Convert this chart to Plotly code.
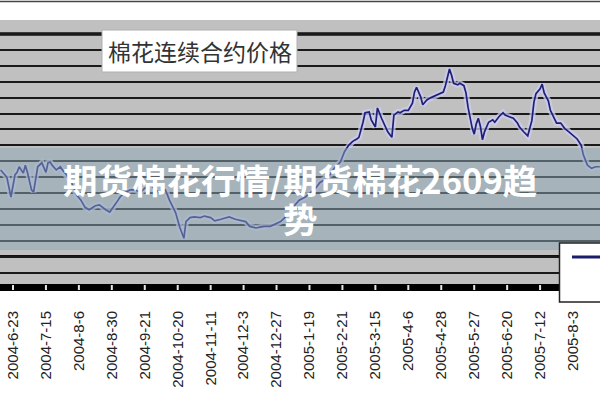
import plotly.graph_objects as go

# ---- data (trading-day index, price in yuan/ton) ----
day_index = [-6, -3, -1, 0, 1, 2, 3, 5, 6, 7, 9, 10, 11, 12, 14, 16, 17, 18, 19, 21,
             23, 24, 26, 29, 31, 33, 35, 37, 40, 42, 45, 47, 50, 52, 54, 57, 59, 62, 64, 67,
             69, 71, 74, 76, 79, 81, 83, 84, 86, 88, 91, 93, 96, 98, 101, 103, 105, 108, 110, 113,
             115, 118, 120, 122, 125, 127, 130, 132, 135, 137, 139, 142, 144, 147, 149, 152, 154, 156, 159, 161,
             163, 165, 167, 168, 170, 171, 173, 174, 176, 177, 179, 181, 182, 184, 185, 187, 188, 190, 192, 194,
             195, 196, 198, 199, 201, 203, 205, 207, 209, 210, 211, 212, 213, 214, 216, 217, 219, 220, 221, 222,
             223, 224, 225, 226, 227, 228, 229, 231, 233, 234, 236, 238, 239, 241, 243, 245, 246, 248, 250, 252,
             253, 254, 256, 257, 258, 259, 260, 261, 263, 264, 266, 268, 270, 272, 274, 276, 277, 279, 281, 283,
             285]
price = [12290, 12200, 11950, 12080, 12230, 12260, 12330, 12250, 12350, 12260, 12040, 12010, 12200, 12330, 12380, 12260, 12380, 12390, 12350, 12290,
         12330, 12290, 12230, 12100, 11970, 11910, 11820, 11790, 11840, 11850, 11790, 11760, 11870, 11950, 12000, 12040, 12040, 12010, 12060, 12100,
         12040, 12010, 12040, 11910, 11750, 11570, 11430, 11640, 11690, 11700, 11690, 11710, 11690, 11650, 11670, 11690, 11700, 11670, 11660, 11640,
         11580, 11560, 11570, 11580, 11580, 11600, 11640, 11690, 11760, 11850, 11910, 11950, 11990, 12060, 12130, 12180, 12230, 12310, 12390, 12520,
         12600, 12650, 12680, 12700, 12890, 13010, 13020, 12920, 12830, 13070, 12940, 12820, 12770, 12700, 12980, 13020, 13010, 13040, 13040, 13130,
         13270, 13330, 13210, 13110, 13170, 13200, 13220, 13250, 13270, 13350, 13460, 13560, 13480, 13380, 13360, 13380, 13350, 13260, 13080, 12940,
         12820, 12740, 12870, 12940, 12840, 12670, 12770, 12890, 12920, 12890, 12960, 13010, 12980, 12960, 12940, 12880, 12830, 12770, 12720, 12910,
         13140, 13250, 13310, 13370, 13260, 13210, 13160, 13040, 12930, 12880, 12880, 12810, 12770, 12730, 12680, 12600, 12480, 12350, 12310, 12330,
         12330]
assert len(day_index) == len(price)

tick_index = [0, 16, 32, 48, 64, 80, 96, 112, 128, 144, 160, 176, 192, 208, 224, 240, 256, 272]
tick_labels = ["2004-6-23", "2004-7-15", "2004-8-6", "2004-8-30", "2004-9-21", "2004-10-20",
               "2004-11-11", "2004-12-3", "2004-12-27", "2005-1-19", "2005-2-21", "2005-3-15",
               "2005-4-6", "2005-4-28", "2005-5-27", "2005-6-20", "2005-7-12", "2005-8-3"]

chart_title = "棉花连续合约价格"
overlay_line1 = "期货棉花行情/期货棉花2609趋"
overlay_line2 = "势"

CJK = "Noto Sans CJK SC"

fig = go.Figure()
# soft halo around the line (jpeg-like glow)
fig.add_trace(go.Scatter(x=day_index, y=price, mode="lines",
                         line=dict(color="rgba(205,205,240,0.75)", width=6),
                         hoverinfo="skip", showlegend=False))
fig.add_trace(go.Scatter(x=day_index, y=price, mode="lines",
                         line=dict(color="#1f1f78", width=1.7),
                         showlegend=False))

PT, PB = 20, 284  # plot top / bottom in px
H = PB - PT

def py(px):
    return (PB - px) / H

shapes = []
# light tick notches inside the black axis band, at the category tick positions
for t in tick_index:
    shapes.append(dict(type="line", xref="x", yref="paper", x0=t, x1=t, y0=py(290), y1=py(285),
                       line=dict(color="#e6e6e6", width=2), layer="above"))
shapes += [
    # thick gridlines
    dict(type="line", xref="paper", yref="y", x0=0, x1=1, y0=14000, y1=14000,
         line=dict(color="#111", width=3.5), layer="between"),
    dict(type="line", xref="paper", yref="y", x0=0, x1=1, y0=11200, y1=11200,
         line=dict(color="#111", width=3), layer="between"),
    # top border
    dict(type="line", xref="paper", yref="paper", x0=0, x1=1, y0=py(1.5), y1=py(1.5),
         line=dict(color="#444", width=1.5), layer="above"),
    # title box
    dict(type="rect", xref="paper", yref="paper", x0=102 / 600, x1=297 / 600, y0=py(72), y1=py(30),
         fillcolor="white", line=dict(color="#b0b0b0", width=1), layer="above"),
    # overlay band
    dict(type="rect", xref="paper", yref="paper", x0=-0.01, x1=1.01, y0=py(250), y1=py(148),
         fillcolor="rgba(140,165,180,0.5)", line=dict(width=0), layer="above"),
    # legend box
    dict(type="rect", xref="paper", yref="paper", x0=559.5 / 600, x1=1.02, y0=py(302), y1=py(243),
         fillcolor="white", line=dict(color="#222", width=1.5), layer="above"),
    dict(type="line", xref="paper", yref="paper", x0=572 / 600, x1=1.01, y0=py(257), y1=py(257),
         line=dict(color="#1c1c6c", width=3), layer="above"),
]

annotations = [
    dict(text=chart_title, xref="paper", yref="paper", x=200 / 600, y=py(51),
         xanchor="center", yanchor="middle", showarrow=False,
         font=dict(family=CJK, size=23, color="#333")),
    dict(text="<b>" + overlay_line1 + "</b>", xref="paper", yref="paper", x=300 / 600, y=py(179),
         xanchor="center", yanchor="middle", showarrow=False,
         font=dict(family=CJK, size=34.5, color="white")),
    dict(text="<b>" + overlay_line2 + "</b>", xref="paper", yref="paper", x=300 / 600, y=py(218),
         xanchor="center", yanchor="middle", showarrow=False,
         font=dict(family=CJK, size=34.5, color="white")),
]

fig.update_layout(
    width=600, height=400,
    margin=dict(l=0, r=0, t=PT, b=400 - PB, pad=0, autoexpand=False),
    paper_bgcolor="white", plot_bgcolor="#c0c0c0",
    shapes=shapes, annotations=annotations,
    showlegend=False,
    xaxis=dict(range=[-6.31, 285.1], tickmode="array", tickvals=tick_index, ticktext=tick_labels,
               tickangle=-90, showgrid=False, zeroline=False, automargin=False,
               showline=True, linecolor="black", linewidth=7,
               ticks="", ticklabelstandoff=14,
               tickfont=dict(family="Liberation Sans, Arial", size=15, color="#222")),
    yaxis=dict(range=[14427.8 - 12.579 * PB, 14427.8 - 12.579 * PT], tick0=10800, dtick=200,
               showticklabels=False, ticks="", zeroline=False, showline=False, automargin=False,
               showgrid=True, gridcolor="#1a1a1a", gridwidth=1.5),
)

fig.write_html("out.html", config={"displayModeBar": False},
               post_script="document.body.style.margin='0px';document.body.style.overflow='hidden';")
